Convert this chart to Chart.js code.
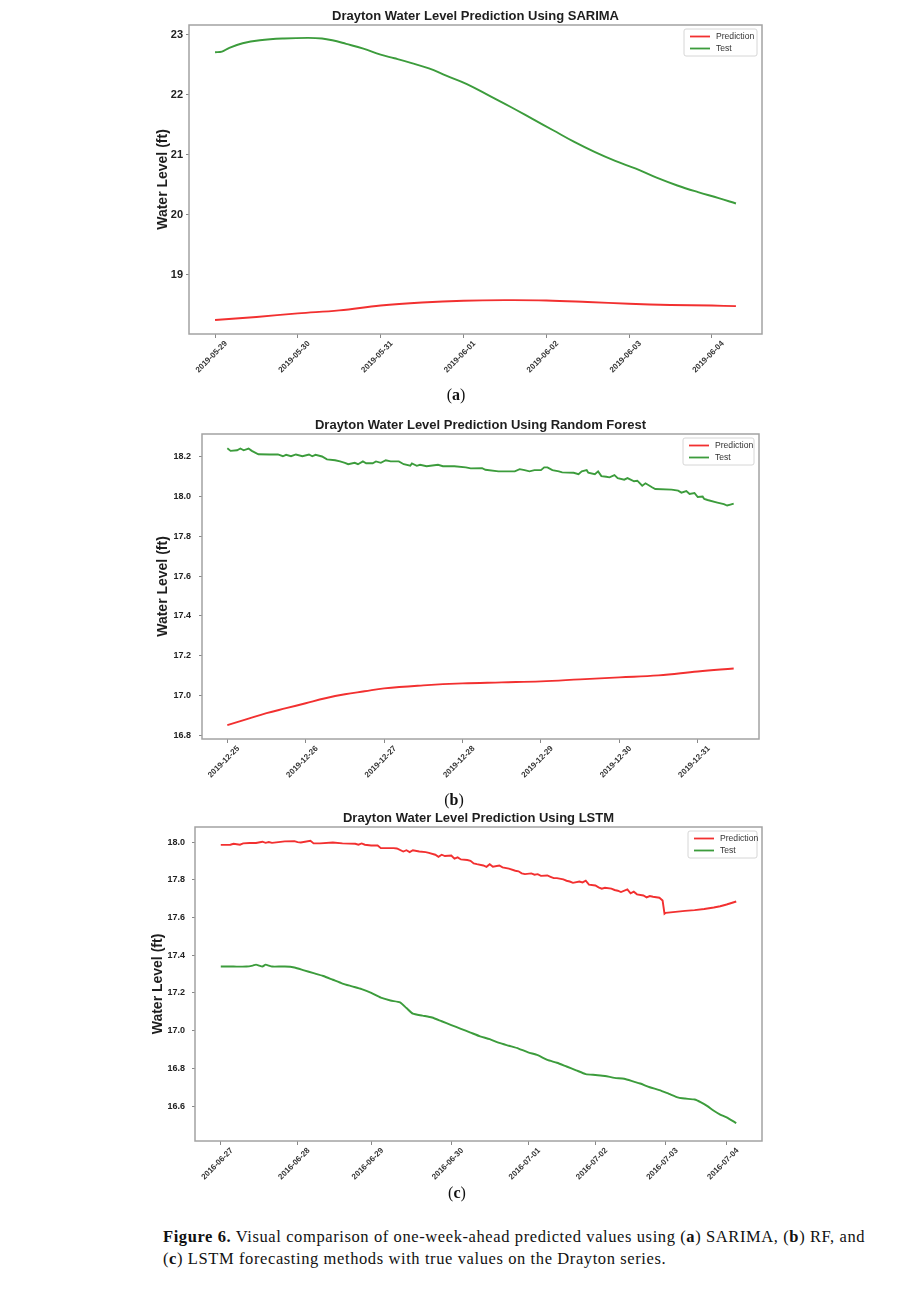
<!DOCTYPE html>
<html>
<head>
<meta charset="utf-8">
<script src="https://cdn.jsdelivr.net/npm/chart.js@4.4.0/dist/chart.umd.min.js"></script>
<style>
  html, body { margin: 0; padding: 0; background: #fff; }
  body { width: 909px; height: 1306px; position: relative; overflow: hidden; }
  canvas { position: absolute; }
  .sub { position: absolute; width: 60px; text-align: center; font: 16px 'Liberation Serif', serif; color: #111; line-height: 20px; }
  .caption { position: absolute; left: 163px; top: 1226px; font: 16.5px 'Liberation Serif', serif; letter-spacing: 0.6px; line-height: 22px; color: #111; white-space: nowrap; }
</style>
</head>
<body>
<canvas id="chartSarima" width="751" height="382" style="left:100px; top:7px;"></canvas>
<canvas id="chartRf" width="741" height="378" style="left:110px; top:416px;"></canvas>
<canvas id="chartLstm" width="747" height="387" style="left:105px; top:809px;"></canvas>
<div class="sub" style="left:426px; top:385px;">(<b>a</b>)</div>
<div class="sub" style="left:424px; top:790px;">(<b>b</b>)</div>
<div class="sub" style="left:427px; top:1183px;">(<b>c</b>)</div>
<div class="caption"><b>Figure 6.</b> Visual comparison of one-week-ahead predicted values using (<b>a</b>) SARIMA, (<b>b</b>) RF, and<br>(<b>c</b>) LSTM forecasting methods with true values on the Drayton series.</div>

<script>
'use strict';

/* ── (a) SARIMA : x = hours since first sample ── */
const sarimaDates = ['2019-05-29', '2019-05-30', '2019-05-31', '2019-06-01', '2019-06-02', '2019-06-03', '2019-06-04'];
const sarimaDateHours = [0, 24, 48, 72, 96, 120, 144];
const sarimaYTicks = [19, 20, 21, 22, 23];
const sarimaPredHours = [0, 12, 24, 36, 48, 60, 72, 84, 96, 108, 120, 132, 144, 151];
const sarimaPred = [18.25, 18.30, 18.36, 18.41, 18.49, 18.54, 18.57, 18.58, 18.575, 18.55, 18.52, 18.50, 18.49, 18.48];
const sarimaTestHours = [0, 2, 4, 8, 13, 20, 27, 31, 34, 38, 43, 48, 52, 57, 62, 67, 73, 80, 86, 92, 98, 104, 110, 116, 122, 128, 134, 140, 146, 151];
const sarimaTest = [22.71, 22.72, 22.78, 22.86, 22.91, 22.94, 22.95, 22.94, 22.91, 22.85, 22.77, 22.67, 22.61, 22.53, 22.44, 22.32, 22.18, 21.97, 21.79, 21.60, 21.41, 21.22, 21.05, 20.90, 20.77, 20.62, 20.49, 20.38, 20.28, 20.19];

/* ── (b) Random Forest ── */
const rfDates = ['2019-12-25', '2019-12-26', '2019-12-27', '2019-12-28', '2019-12-29', '2019-12-30', '2019-12-31'];
const rfDateHours = [0, 24, 48, 72, 96, 120, 144];
const rfYTicks = [16.8, 17.0, 17.2, 17.4, 17.6, 17.8, 18.0, 18.2];
const rfPredHours = [0, 6, 12, 18, 24, 30, 36, 42, 48, 60, 72, 84, 96, 108, 120, 132, 144, 155];
const rfPred = [16.85, 16.88, 16.91, 16.935, 16.96, 16.985, 17.005, 17.02, 17.035, 17.05, 17.06, 17.065, 17.07, 17.08, 17.09, 17.10, 17.12, 17.135];
const rfTestHours = [0, 1, 3, 4, 5, 6.5, 7.5, 9.5, 13, 15.5, 17, 18, 19.5, 21, 23, 25, 26, 27, 29, 30.5, 33, 34.5, 36, 37, 39, 40, 41.5, 42.5, 44.5, 45.5, 47, 48.5, 50, 52.5, 54, 56, 56.5, 58, 59, 61, 64.5, 66, 69.5, 73, 74.5, 78, 79, 83, 88, 89.5, 91, 92.5, 94, 96, 97, 98, 99.5, 101.5, 102.5, 106, 107.5, 108.5, 110, 110.5, 112.5, 113.5, 114.5, 116, 117, 118.5, 119.5, 121.5, 122.5, 124.5, 125.5, 127, 128, 130, 131, 136, 138, 139, 140.5, 141.5, 143, 144, 145.5, 146, 147, 150, 152, 153, 154, 155];
const rfTest = [18.243, 18.230, 18.233, 18.242, 18.233, 18.242, 18.230, 18.213, 18.212, 18.212, 18.203, 18.210, 18.203, 18.212, 18.203, 18.212, 18.203, 18.210, 18.202, 18.187, 18.183, 18.177, 18.170, 18.163, 18.170, 18.163, 18.177, 18.168, 18.168, 18.177, 18.170, 18.183, 18.177, 18.177, 18.163, 18.155, 18.167, 18.155, 18.160, 18.153, 18.160, 18.153, 18.153, 18.147, 18.142, 18.143, 18.135, 18.127, 18.127, 18.138, 18.133, 18.127, 18.133, 18.133, 18.147, 18.147, 18.133, 18.127, 18.122, 18.120, 18.113, 18.127, 18.133, 18.120, 18.113, 18.127, 18.103, 18.100, 18.097, 18.108, 18.093, 18.085, 18.093, 18.077, 18.080, 18.055, 18.067, 18.047, 18.038, 18.035, 18.030, 18.020, 18.028, 18.013, 18.018, 17.998, 18.000, 17.988, 17.983, 17.970, 17.962, 17.955, 17.960, 17.965];

/* ── (c) LSTM : x = sample index (days are not evenly sampled) ── */
const lstmDates = ['2016-06-27', '2016-06-28', '2016-06-29', '2016-06-30', '2016-07-01', '2016-07-02', '2016-07-03', '2016-07-04'];
const lstmDateIdx = [0, 24, 47, 72, 96, 117, 139, 158];
const lstmYTicks = [16.6, 16.8, 17.0, 17.2, 17.4, 17.6, 17.8, 18.0];
const lstmPredIdx = [0, 3, 4, 6, 7, 9, 11, 13, 14, 15, 16, 18, 20, 23, 24, 25, 28, 29, 31, 35, 38, 42, 43, 44, 45, 47, 49, 50, 54, 55, 57, 58, 59, 60, 62, 64, 65, 67, 68, 69, 70, 72, 73, 74, 75, 77, 78, 79, 80, 82, 83, 84, 85, 87, 88, 90, 92, 93, 94, 95, 97, 98, 99, 100, 102, 103, 104, 105, 107, 108, 109, 110, 112, 113, 114, 115, 117, 118, 119, 120, 122, 123, 124, 125, 127, 128, 129, 130, 132, 133, 134, 135, 137, 138, 138.6, 139, 142, 145, 148, 151, 154, 156, 158, 161];
const lstmPred = [17.985, 17.986, 17.991, 17.986, 17.993, 17.995, 17.995, 18.002, 17.996, 18.000, 17.996, 18.000, 18.004, 18.005, 18.000, 17.998, 18.007, 17.993, 17.993, 17.998, 17.993, 17.991, 17.986, 17.993, 17.986, 17.982, 17.982, 17.968, 17.968, 17.966, 17.950, 17.957, 17.947, 17.957, 17.950, 17.947, 17.943, 17.933, 17.922, 17.933, 17.926, 17.929, 17.912, 17.919, 17.908, 17.905, 17.901, 17.887, 17.883, 17.876, 17.869, 17.883, 17.869, 17.876, 17.866, 17.859, 17.848, 17.845, 17.834, 17.830, 17.834, 17.827, 17.830, 17.821, 17.823, 17.816, 17.809, 17.809, 17.802, 17.795, 17.791, 17.784, 17.791, 17.786, 17.795, 17.774, 17.770, 17.760, 17.753, 17.758, 17.753, 17.746, 17.742, 17.735, 17.749, 17.728, 17.737, 17.723, 17.717, 17.707, 17.714, 17.710, 17.705, 17.690, 17.620, 17.625, 17.630, 17.635, 17.639, 17.645, 17.653, 17.660, 17.669, 17.685];
const lstmTestIdx = [0, 4, 8, 10, 11, 12, 13, 14, 15, 16, 20, 23, 26, 29, 32, 35, 38, 41, 44, 47, 50, 53, 56, 58, 60, 63, 66, 69, 72, 75, 78, 81, 84, 87, 90, 93, 96, 99, 102, 105, 108, 111, 114, 117, 120, 123, 126, 129, 131, 134, 137, 140, 143, 145, 148, 150, 152, 154, 156, 158, 161];
const lstmTest = [17.34, 17.34, 17.34, 17.345, 17.35, 17.345, 17.34, 17.35, 17.345, 17.34, 17.34, 17.335, 17.32, 17.305, 17.29, 17.27, 17.25, 17.235, 17.22, 17.20, 17.175, 17.16, 17.15, 17.12, 17.09, 17.08, 17.07, 17.05, 17.03, 17.01, 16.99, 16.97, 16.955, 16.935, 16.92, 16.905, 16.885, 16.87, 16.845, 16.83, 16.81, 16.79, 16.77, 16.765, 16.76, 16.75, 16.745, 16.73, 16.72, 16.70, 16.685, 16.665, 16.645, 16.64, 16.635, 16.62, 16.60, 16.575, 16.555, 16.54, 16.51];

const RED = '#f23030';
const GREEN = '#3c9c3c';
const FONT = "'Liberation Sans', Arial, sans-serif";

/* ── plot frame + legend box drawn inside the chart area ── */
const frameLegend = {
  id: 'frameLegend',
  afterDraw(chart, args, opts) {
    const { ctx, chartArea: a } = chart;
    ctx.save();
    ctx.strokeStyle = '#a3a3a3';
    ctx.lineWidth = 1.5;
    ctx.strokeRect(a.left, a.top, a.right - a.left, a.bottom - a.top);

    const bw = opts.boxW || 73, bh = 27;
    const x0 = a.right - 5 - bw, y0 = a.top + 4;
    ctx.fillStyle = 'rgba(255,255,255,0.85)';
    ctx.strokeStyle = '#d6d6d6';
    ctx.lineWidth = 1;
    ctx.beginPath();
    ctx.roundRect(x0, y0, bw, bh, 2);
    ctx.fill();
    ctx.stroke();

    ctx.font = `8.6px ${FONT}`;
    ctx.textBaseline = 'middle';
    chart.data.datasets.forEach((ds, i) => {
      const y = y0 + 7.5 + i * 12;
      ctx.strokeStyle = ds.borderColor;
      ctx.lineWidth = 1.8;
      ctx.beginPath();
      ctx.moveTo(x0 + 6, y);
      ctx.lineTo(x0 + 26, y);
      ctx.stroke();
      ctx.fillStyle = '#333';
      ctx.fillText(ds.label, x0 + 32, y);
    });
    ctx.restore();
  }
};

const series = (label, color, xs, ys, tension) => ({
  label,
  data: xs.map((x, i) => ({ x, y: ys[i] })),
  borderColor: color,
  backgroundColor: color,
  borderWidth: 1.9,
  pointRadius: 0,
  tension,
  fill: false,
});

const makeChart = (d) => new Chart(document.getElementById(d.canvas), {
  type: 'line',
  data: {
    datasets: [
      series('Prediction', RED, d.predX, d.pred, d.predTension),
      series('Test', GREEN, d.testX, d.test, d.testTension),
    ],
  },
  options: {
    responsive: false,
    animation: false,
    events: [],
    layout: { padding: 0 },
    plugins: {
      legend: { display: false },
      tooltip: { enabled: false },
      title: {
        display: true,
        text: d.title,
        color: '#1e1e1e',
        font: { family: FONT, size: 13, weight: 'bold', lineHeight: '14px' },
        padding: { top: 2, bottom: 2 },
      },
      frameLegend: { boxW: d.boxW },
    },
    scales: {
      x: {
        type: 'linear',
        min: d.xMin,
        max: d.xMax,
        afterBuildTicks: (s) => { s.ticks = d.tickX.map((v) => ({ value: v })); },
        afterFit: (s) => { s.height = 55; },
        border: { display: false },
        grid: { drawOnChartArea: false, drawTicks: true, tickLength: 4, color: '#888' },
        ticks: {
          autoSkip: false,
          minRotation: 45,
          maxRotation: 45,
          labelOffset: 11,
          padding: 1,
          color: '#333',
          font: { family: FONT, size: 8, weight: 'bold' },
          callback: (v, i) => d.dates[i],
        },
      },
      y: {
        min: d.yMin,
        max: d.yMax,
        afterBuildTicks: (s) => { s.ticks = d.yTicks.map((v) => ({ value: v })); },
        afterFit: (s) => { s.width = d.axisW; },
        border: { display: false },
        grid: { drawOnChartArea: false, drawTicks: true, tickLength: 3, color: '#888' },
        ticks: {
          padding: d.yPad,
          color: '#222',
          font: { family: FONT, size: d.yFont, weight: 'bold' },
          callback: (v) => v.toFixed(d.dec),
        },
        title: {
          display: true,
          text: 'Water Level (ft)',
          color: '#1e1e1e',
          font: { family: FONT, size: 14, weight: 'bold', lineHeight: '15px' },
          padding: { top: d.titlePad, bottom: 0 },
        },
      },
      /* empty right axis: keeps the plot centred under the title */
      yPad: {
        position: 'right',
        display: true,
        min: d.yMin,
        max: d.yMax,
        afterFit: (s) => { s.width = d.axisW; },
        border: { display: false },
        grid: { display: false },
        ticks: { display: false },
      },
    },
  },
  plugins: [frameLegend],
});

const defs = [
  { canvas: 'chartSarima', title: 'Drayton Water Level Prediction Using SARIMA',
    predX: sarimaPredHours, pred: sarimaPred, predTension: 0.4,
    testX: sarimaTestHours, test: sarimaTest, testTension: 0.4,
    dates: sarimaDates, tickX: sarimaDateHours, yTicks: sarimaYTicks, dec: 0,
    xMin: -7.55, xMax: 158.55, yMin: 18.016, yMax: 23.164,
    axisW: 89, yPad: 3, yFont: 11, titlePad: 56, boxW: 73 },
  { canvas: 'chartRf', title: 'Drayton Water Level Prediction Using Random Forest',
    predX: rfPredHours, pred: rfPred, predTension: 0.4,
    testX: rfTestHours, test: rfTest, testTension: 0,
    dates: rfDates, tickX: rfDateHours, yTicks: rfYTicks, dec: 1,
    xMin: -7.75, xMax: 162.75, yMin: 16.78, yMax: 18.315,
    axisW: 92, yPad: 8, yFont: 9, titlePad: 46, boxW: 71 },
  { canvas: 'chartLstm', title: 'Drayton Water Level Prediction Using LSTM',
    predX: lstmPredIdx, pred: lstmPred, predTension: 0,
    testX: lstmTestIdx, test: lstmTest, testTension: 0.2,
    dates: lstmDates, tickX: lstmDateIdx, yTicks: lstmYTicks, dec: 1,
    xMin: -8.05, xMax: 169.05, yMin: 16.415, yMax: 18.08,
    axisW: 90, yPad: 7, yFont: 9, titlePad: 46, boxW: 69 },
];

defs.forEach(makeChart);
</script>
</body>
</html>
